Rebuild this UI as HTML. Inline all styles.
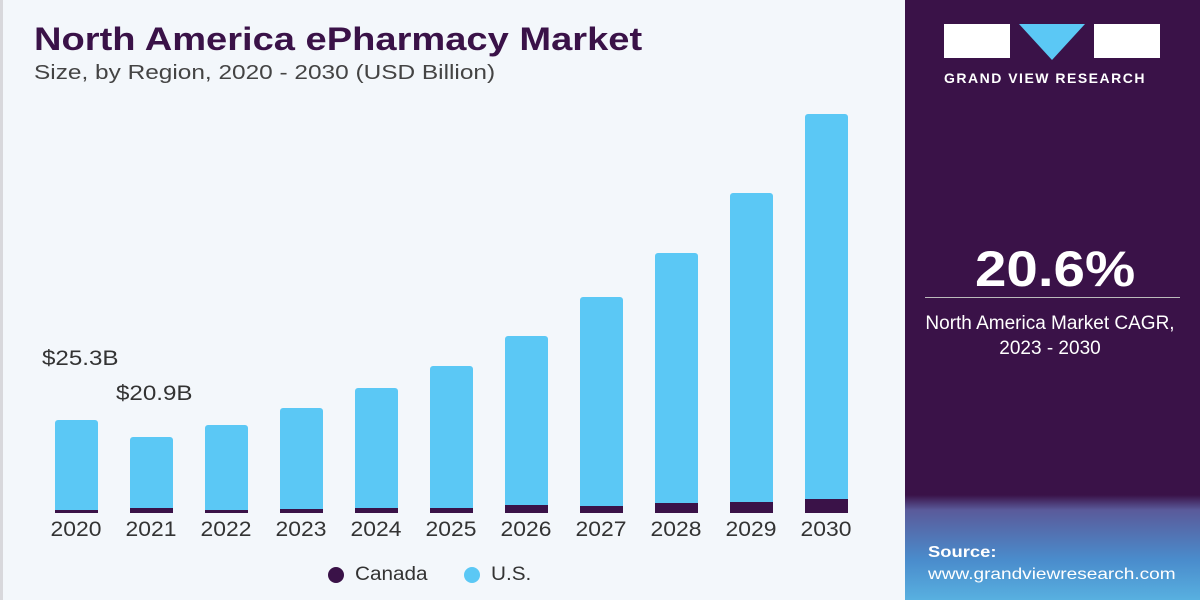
<!DOCTYPE html>
<html><head><meta charset="utf-8"><style>
body{margin:0;width:1200px;height:600px;overflow:hidden;background:#f3f7fb;font-family:"Liberation Sans",sans-serif;position:relative}
.t{position:absolute;white-space:nowrap;transform-origin:0 0}
.bar{position:absolute;width:43px;background:#5bc8f5;border-radius:3px 3px 0 0}
.ca{position:absolute;left:0;right:0;bottom:0;background:#3a1248}
.yr{position:absolute;top:518px;width:60px;text-align:center;font-size:21px;color:#333;transform:scaleX(1.09)}
</style></head><body>
<div style="position:absolute;left:0;top:0;width:3px;height:600px;background:#d8d8dc"></div>
<div class="t" style="left:34px;top:21px;font-size:32px;font-weight:bold;color:#3a1248;transform:scaleX(1.19)">North America ePharmacy Market</div>
<div class="t" style="left:34px;top:62px;font-size:20px;color:#444;transform:scaleX(1.22)">Size, by Region, 2020 - 2030 (USD Billion)</div>
<div class="t" style="left:42px;top:347px;font-size:21px;color:#333;transform:scaleX(1.15)">$25.3B</div>
<div class="t" style="left:116px;top:382px;font-size:21px;color:#333;transform:scaleX(1.15)">$20.9B</div>

<div class="bar" style="left:55px;top:420px;height:93px"><div class="ca" style="height:3px"></div></div>
<div class="bar" style="left:130px;top:437px;height:76px"><div class="ca" style="height:5px"></div></div>
<div class="bar" style="left:205px;top:425px;height:88px"><div class="ca" style="height:3px"></div></div>
<div class="bar" style="left:280px;top:408px;height:105px"><div class="ca" style="height:4px"></div></div>
<div class="bar" style="left:355px;top:388px;height:125px"><div class="ca" style="height:5px"></div></div>
<div class="bar" style="left:430px;top:366px;height:147px"><div class="ca" style="height:5px"></div></div>
<div class="bar" style="left:505px;top:336px;height:177px"><div class="ca" style="height:8px"></div></div>
<div class="bar" style="left:580px;top:297px;height:216px"><div class="ca" style="height:7px"></div></div>
<div class="bar" style="left:655px;top:253px;height:260px"><div class="ca" style="height:10px"></div></div>
<div class="bar" style="left:730px;top:193px;height:320px"><div class="ca" style="height:11px"></div></div>
<div class="bar" style="left:805px;top:114px;height:399px"><div class="ca" style="height:14px"></div></div>

<div class="yr" style="left:46px">2020</div><div class="yr" style="left:121px">2021</div><div class="yr" style="left:196px">2022</div><div class="yr" style="left:271px">2023</div><div class="yr" style="left:346px">2024</div><div class="yr" style="left:421px">2025</div><div class="yr" style="left:496px">2026</div><div class="yr" style="left:571px">2027</div><div class="yr" style="left:646px">2028</div><div class="yr" style="left:721px">2029</div><div class="yr" style="left:796px">2030</div>

<div style="position:absolute;left:328px;top:567px;width:16px;height:16px;border-radius:50%;background:#3a1248"></div>
<div class="t" style="left:355px;top:564px;font-size:19px;color:#333;transform:scaleX(1.09)">Canada</div>
<div style="position:absolute;left:464px;top:567px;width:16px;height:16px;border-radius:50%;background:#5bc8f5"></div>
<div class="t" style="left:491px;top:564px;font-size:19px;color:#333;transform:scaleX(1.09)">U.S.</div>

<div style="position:absolute;left:905px;top:0;width:295px;height:600px;background:linear-gradient(180deg,#3a1248 0,#3a1248 495px,#5a5a9a 510px,#4a8ccc 560px,#58b0e0 600px)"></div>
<div style="position:absolute;left:944px;top:24px;width:66px;height:34px;background:#fff"></div>
<svg style="position:absolute;left:1019px;top:24px" width="66" height="36"><polygon points="0,0 66,0 33,36" fill="#5bc8f5"/></svg>
<div style="position:absolute;left:1094px;top:24px;width:66px;height:34px;background:#fff"></div>
<div class="t" style="left:944px;top:70px;font-size:14px;font-weight:bold;color:#fff;letter-spacing:1.5px">GRAND VIEW RESEARCH</div>
<div class="t" style="left:975px;top:240px;font-size:50px;font-weight:bold;color:#fff;transform:scaleX(1.13)">20.6%</div>
<div style="position:absolute;left:925px;top:297px;width:255px;height:1px;background:#bbb"></div>
<div class="t" style="left:905px;width:290px;text-align:center;top:311px;font-size:19px;color:#fff;line-height:25px">North America Market CAGR,<br>2023 - 2030</div>
<div class="t" style="left:928px;top:544px;font-size:16px;font-weight:bold;color:#fff;transform:scaleX(1.15)">Source:</div>
<div class="t" style="left:928px;top:566px;font-size:16px;color:#fff;transform:scaleX(1.19)">www.grandviewresearch.com</div>
</body></html>
